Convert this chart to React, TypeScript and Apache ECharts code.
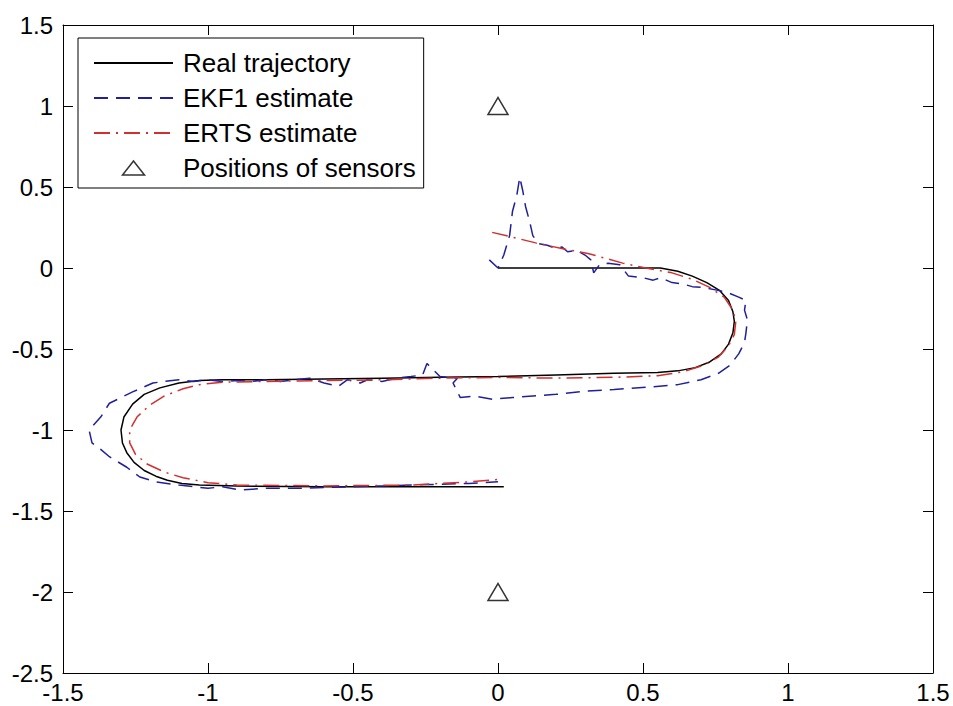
import React, { useEffect, useRef } from "react";
import * as echarts from "echarts";

const xTicks = { min: -1.5, max: 1.5, interval: 0.5 };
const yTicks = { min: -2.5, max: 1.5, interval: 0.5 };

const seriesNames = ["Real trajectory", "EKF1 estimate", "ERTS estimate", "Positions of sensors"];

const realTrajectory: number[][] = [
  [0, 0], [0.1, 0], [0.2, 0], [0.3, 0], [0.4, 0], [0.5, 0], [0.56, 0], [0.62, -0.02], [0.67, -0.05],
  [0.72, -0.09], [0.765, -0.14], [0.795, -0.2], [0.81, -0.27], [0.815, -0.33], [0.81, -0.4], [0.795, -0.47],
  [0.77, -0.53], [0.73, -0.58], [0.68, -0.615], [0.62, -0.635], [0.55, -0.645], [0.4, -0.65], [0.2, -0.66],
  [0, -0.67], [-0.2, -0.675], [-0.4, -0.68], [-0.6, -0.685], [-0.8, -0.69], [-0.95, -0.69], [-1.03, -0.695],
  [-1.1, -0.71], [-1.166, -0.74], [-1.22, -0.78], [-1.26, -0.84], [-1.29, -0.92], [-1.3, -1.0], [-1.295, -1.08],
  [-1.28, -1.14], [-1.255, -1.2], [-1.22, -1.25], [-1.18, -1.285], [-1.14, -1.31], [-1.09, -1.33], [-1.03, -1.34],
  [-0.9, -1.346], [-0.6, -1.35], [-0.3, -1.35], [0, -1.35], [0.02, -1.35],
];

const ekf1Estimate: number[][] = [
  [-0.03, 0.05], [0.0, 0.0], [0.02, 0.08], [0.04, 0.2], [0.05, 0.35], [0.065, 0.45], [0.075, 0.56], [0.085, 0.48],
  [0.095, 0.38], [0.11, 0.28], [0.12, 0.2], [0.14, 0.15], [0.17, 0.14], [0.2, 0.12], [0.22, 0.13], [0.24, 0.1],
  [0.27, 0.11], [0.3, 0.08], [0.32, 0.05], [0.33, -0.03], [0.35, 0.02], [0.38, 0.03], [0.42, 0.02], [0.45, -0.05],
  [0.5, -0.06], [0.535, -0.075], [0.56, -0.06], [0.6, -0.09], [0.64, -0.1], [0.67, -0.115], [0.71, -0.12],
  [0.75, -0.135], [0.79, -0.15], [0.83, -0.18], [0.855, -0.2], [0.85, -0.26], [0.86, -0.32], [0.855, -0.4],
  [0.85, -0.46], [0.83, -0.53], [0.8, -0.6], [0.76, -0.65], [0.7, -0.69], [0.62, -0.72], [0.52, -0.735],
  [0.4, -0.75], [0.3, -0.76], [0.2, -0.78], [0.12, -0.79], [0.05, -0.8], [-0.02, -0.81], [-0.08, -0.79],
  [-0.13, -0.8], [-0.155, -0.71], [-0.14, -0.68], [-0.2, -0.67], [-0.245, -0.59], [-0.26, -0.66], [-0.3, -0.67],
  [-0.35, -0.68], [-0.4, -0.7], [-0.45, -0.69], [-0.475, -0.71], [-0.52, -0.69], [-0.55, -0.73], [-0.6, -0.71],
  [-0.65, -0.68], [-0.7, -0.69], [-0.75, -0.7], [-0.8, -0.69], [-0.85, -0.7], [-0.9, -0.695], [-0.95, -0.7],
  [-1.0, -0.69], [-1.05, -0.7], [-1.1, -0.69], [-1.15, -0.7], [-1.19, -0.71], [-1.26, -0.765], [-1.3, -0.8],
  [-1.34, -0.835], [-1.37, -0.92], [-1.39, -0.96], [-1.41, -1.0], [-1.4, -1.08], [-1.37, -1.12], [-1.34, -1.165],
  [-1.28, -1.23], [-1.235, -1.29], [-1.18, -1.32], [-1.1, -1.34], [-1.0, -1.36], [-0.95, -1.35], [-0.89, -1.37],
  [-0.8, -1.36], [-0.7, -1.36], [-0.6, -1.355], [-0.5, -1.35], [-0.4, -1.345], [-0.3, -1.34], [-0.2, -1.335],
  [-0.1, -1.33], [0.0, -1.32],
];

const ertsEstimate: number[][] = [
  [-0.02, 0.22], [0.05, 0.19], [0.13, 0.155], [0.22, 0.12], [0.31, 0.09], [0.43, 0.03], [0.51, 0.0], [0.6, -0.03],
  [0.67, -0.07], [0.73, -0.12], [0.78, -0.18], [0.81, -0.26], [0.82, -0.33], [0.815, -0.41], [0.795, -0.48],
  [0.76, -0.55], [0.71, -0.6], [0.64, -0.64], [0.55, -0.665], [0.4, -0.675], [0.2, -0.68], [0, -0.675],
  [-0.2, -0.68], [-0.4, -0.69], [-0.6, -0.695], [-0.8, -0.7], [-0.95, -0.705], [-1.03, -0.72], [-1.086, -0.745],
  [-1.15, -0.79], [-1.2, -0.845], [-1.245, -0.92], [-1.27, -1.0], [-1.27, -1.08], [-1.25, -1.15], [-1.21, -1.21],
  [-1.15, -1.26], [-1.086, -1.295], [-1.0, -1.325], [-0.9, -1.34], [-0.6, -1.345], [-0.3, -1.34], [-0.1, -1.32],
  [0, -1.305],
];

const sensorPositions: number[][] = [
  [0, 1],
  [0, -2],
];

const FONT = "'Liberation Sans', Arial, Helvetica, sans-serif";

export default function App() {
  const ref = useRef<HTMLDivElement>(null);
  useEffect(() => {
    if (!ref.current) return;
    const chart = echarts.init(ref.current, undefined, { renderer: "svg" });
    const axisLine = { show: true, onZero: false, lineStyle: { color: "#000", width: 1 } };
    const tick = { show: true, inside: true, length: 10, lineStyle: { color: "#000", width: 1 } };
    const hiddenSymbol = { opacity: 0, color: "transparent", borderWidth: 0 };
    chart.setOption({
      animation: false,
      backgroundColor: "#fff",
      grid: { left: 63, top: 25, right: 20, bottom: 33, containLabel: false, outerBoundsMode: "none" },
      legend: {
        show: true,
        orient: "vertical",
        left: 78,
        top: 38,
        padding: [12, 8, 7, 15],
        itemWidth: 79,
        itemHeight: 14,
        itemGap: 9,
        backgroundColor: "#fff",
        borderColor: "#000",
        borderWidth: 1,
        borderRadius: 0,
        textStyle: { fontFamily: FONT, fontSize: 26, color: "#000", padding: [0, 0, 0, 5] },
        data: [
          { name: seriesNames[0], itemStyle: hiddenSymbol },
          { name: seriesNames[1], itemStyle: hiddenSymbol },
          { name: seriesNames[2], itemStyle: hiddenSymbol },
          {
            name: seriesNames[3],
            icon: "path://M11,0 L22,14 L0,14 Z",
            itemStyle: { color: "#fff", borderColor: "#000", borderWidth: 1.5 },
          },
        ],
      },
      xAxis: [
        {
          type: "value",
          position: "bottom",
          ...xTicks,
          axisLine,
          axisTick: tick,
          splitLine: { show: false },
          axisLabel: { fontFamily: FONT, fontSize: 24, color: "#000", margin: 7 },
        },
        {
          type: "value",
          position: "top",
          ...xTicks,
          axisLine,
          axisTick: tick,
          splitLine: { show: false },
          axisLabel: { show: false },
        },
      ],
      yAxis: [
        {
          type: "value",
          position: "left",
          ...yTicks,
          axisLine,
          axisTick: tick,
          splitLine: { show: false },
          axisLabel: { fontFamily: FONT, fontSize: 24, color: "#000", margin: 10 },
        },
        {
          type: "value",
          position: "right",
          ...yTicks,
          axisLine,
          axisTick: tick,
          splitLine: { show: false },
          axisLabel: { show: false },
        },
      ],
      series: [
        {
          name: seriesNames[0],
          type: "line",
          data: realTrajectory,
          symbol: "none",
          lineStyle: { color: "#000", width: 1.5, type: "solid" },
          itemStyle: { color: "#000" },
        },
        {
          name: seriesNames[1],
          type: "line",
          data: ekf1Estimate,
          symbol: "none",
          lineStyle: { color: "#20209a", width: 1.5, type: [14, 8] },
          itemStyle: { color: "#20209a" },
        },
        {
          name: seriesNames[2],
          type: "line",
          data: ertsEstimate,
          symbol: "none",
          lineStyle: { color: "#d03030", width: 1.5, type: [16, 6, 2, 6] },
          itemStyle: { color: "#d03030" },
        },
        {
          name: seriesNames[3],
          type: "scatter",
          data: sensorPositions,
          symbol: "triangle",
          symbolSize: [20, 17],
          itemStyle: { color: "#fff", borderColor: "#000", borderWidth: 1.5 },
        },
      ],
    });
    return () => chart.dispose();
  }, []);
  return (
    <div
      ref={ref}
      style={{ position: "absolute", left: 0, top: 0, width: 953, height: 706, background: "#fff" }}
    />
  );
}
